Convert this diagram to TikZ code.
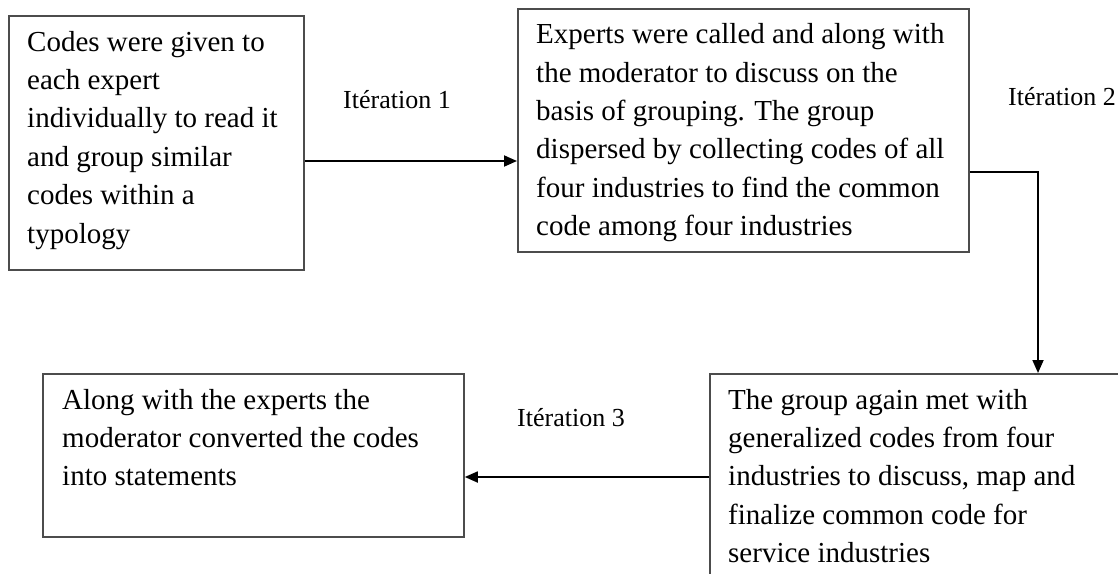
\documentclass[tikz,border=0pt]{standalone}
\usepackage{fontspec}
\setmainfont{Liberation Serif}
\usetikzlibrary{arrows.meta,calc}
\begin{document}
\begin{tikzpicture}[x=1pt,y=-1pt,
  box/.style={draw=black!70, line width=1.8pt, inner sep=0pt, anchor=north west},
  txt/.style={anchor=north west, inner sep=0pt, align=left, font=\fontsize{29}{38.4}\selectfont},
  lbl/.style={inner sep=0pt, font=\fontsize{26}{30}\selectfont},
  arr/.style={line width=1.8pt, -{Triangle[length=13pt,width=11pt]}}]
\useasboundingbox (0,0) rectangle (1118,573);
\clip (0,0) rectangle (1118,573);
% boxes
\node[box, minimum width=295pt, minimum height=254pt] (b1) at (8,15) {};
\node[box, minimum width=451pt, minimum height=243pt] (b2) at (517,8) {};
\node[box, minimum width=421pt, minimum height=163pt] (b3) at (42,373) {};
\node[box, minimum width=430pt, minimum height=230pt] (b4) at (709,373) {};
% texts
\node[txt] (t1) at ($(b1.north west)+(19,9.1)$) {\strut Codes were given to\\each expert\\individually to read it\\and group similar\\codes within a\\typology};
\node[txt] (t2) at ($(b2.north west)+(19,8.6)$) {\strut Experts were called and along with\\the moderator to discuss on the\\basis of grouping. The group\\dispersed by collecting codes of all\\four industries to find the common\\code among four industries};
\node[txt] (t3) at ($(b3.north west)+(20,9.1)$) {\strut Along with the experts the\\moderator converted the codes\\into statements};
\node[txt] (t4) at ($(b4.north west)+(19,9.1)$) {\strut The group again met with\\generalized codes from four\\industries to discuss, map and\\finalize common code for\\service industries};
% labels
\node[lbl] (l1) at (397,100) {Itération 1};
\node[lbl] (l2) at (1062,97) {Itération 2};
\node[lbl] (l3) at (571,418) {Itération 3};
% connectors
\coordinate (a1) at ($(b1.north east)+(0,146)$);
\draw[arr] (a1) -- (a1 -| b2.west);
\coordinate (a2) at ($(b2.north east)+(0,164)$);
\coordinate (k2) at (1038,172);
\draw[arr] (a2) -- (k2) -- (k2 |- b4.north);
\coordinate (a3) at ($(b4.north west)+(0,104)$);
\draw[arr] (a3) -- (a3 -| b3.east);
\end{tikzpicture}
\end{document}
